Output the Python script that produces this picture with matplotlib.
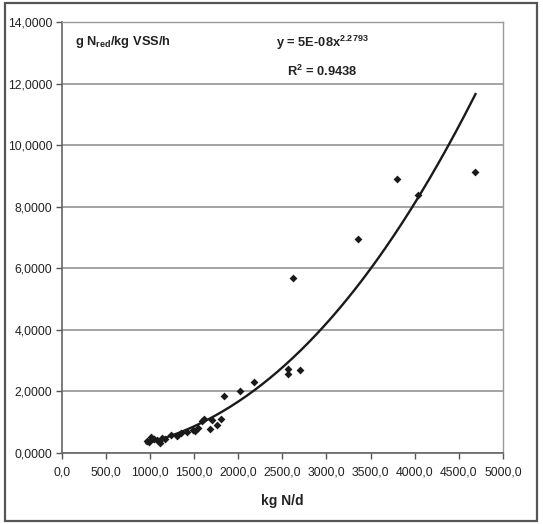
import numpy as np
import matplotlib
matplotlib.use("Agg")
import matplotlib.pyplot as plt
from matplotlib.patches import Rectangle
from matplotlib.ticker import FuncFormatter

# nitrogen load (kg N/d) vs. specific reduction rate (g N_red / kg VSS / h)
load_kg_n_d = [960, 985, 1010, 1040, 1075, 1110, 1140, 1170, 1240, 1300,
               1350, 1420, 1490, 1515, 1545, 1590, 1610, 1680, 1700, 1760,
               1800, 1840, 2020, 2180, 2560, 2560, 2624, 2704, 3360, 3795,
               4033, 4690]
rate_g_kg_h = [0.40, 0.35, 0.52, 0.45, 0.42, 0.34, 0.50, 0.45, 0.58, 0.55,
               0.64, 0.68, 0.75, 0.70, 0.80, 1.05, 1.12, 0.77, 1.08, 0.91,
               1.12, 1.86, 2.02, 2.32, 2.56, 2.72, 5.70, 2.69, 6.96, 8.91,
               8.37, 9.13]

# power trendline y = a * x^b
trend_a = 5e-08
trend_b = 2.2793
trend_r2 = 0.9438

x_ticks = [0, 500, 1000, 1500, 2000, 2500, 3000, 3500, 4000, 4500, 5000]
y_ticks = [0, 2, 4, 6, 8, 10, 12, 14]

plt.rcParams["font.family"] = ["Liberation Sans", "DejaVu Sans"]
txt_color = "#222222"

fig = plt.figure(figsize=(5.43, 5.24), dpi=100)
ax = fig.add_axes([0.114, 0.1355, 0.812, 0.8225])

x = np.array(load_kg_n_d, dtype=float)
y = np.array(rate_g_kg_h, dtype=float)

ax.scatter(x, y, marker="D", s=16, color="#1a1a1a", zorder=3, linewidths=0)

xs = np.linspace(x.min(), x.max(), 300)
ax.plot(xs, trend_a * xs ** trend_b, color="#1a1a1a", lw=1.7, zorder=4)

ax.set_xlim(0, 5000)
ax.set_ylim(0, 14)
ax.set_xticks(x_ticks)
ax.set_yticks(y_ticks)
ax.xaxis.set_major_formatter(FuncFormatter(lambda v, p: f"{v:.1f}".replace(".", ",")))
ax.yaxis.set_major_formatter(FuncFormatter(lambda v, p: f"{v:.4f}".replace(".", ",")))
ax.tick_params(direction="out", length=4, width=1, color="#555555",
               labelsize=8.8, labelcolor=txt_color, pad=3)
ax.tick_params(axis="x", pad=6)

ax.yaxis.grid(True, color="#8a8a8a", lw=1.1)
ax.set_axisbelow(True)
for side in ("left", "bottom"):
    ax.spines[side].set_color("#666666")
    ax.spines[side].set_linewidth(1.2)
for side in ("top", "right"):
    ax.spines[side].set_color("#999999")
    ax.spines[side].set_linewidth(1.0)

ax.set_xlabel("kg N/d", fontsize=10, fontweight="bold", color=txt_color, labelpad=11)
ax.text(0.03, 0.972, r"g N$_{\mathregular{red}}$/kg VSS/h", transform=ax.transAxes,
        fontsize=9.3, fontweight="bold", color=txt_color, va="top", ha="left")

a_txt = f"{trend_a:.0E}"
ax.text(0.59, 0.972, rf"y = {a_txt}x$^{{\mathregular{{{trend_b}}}}}$", transform=ax.transAxes,
        fontsize=9.3, fontweight="bold", color=txt_color, va="top", ha="center")
ax.text(0.59, 0.903, rf"R$^{{\mathregular{{2}}}}$ = {trend_r2}", transform=ax.transAxes,
        fontsize=9.3, fontweight="bold", color=txt_color, va="top", ha="center")

# outer chart frame
fig.patches.append(Rectangle((0.0092, 0.0057), 0.98, 0.9885, transform=fig.transFigure,
                             fill=False, edgecolor="#555555", lw=1.6))

fig.savefig("out.png", dpi=100)
